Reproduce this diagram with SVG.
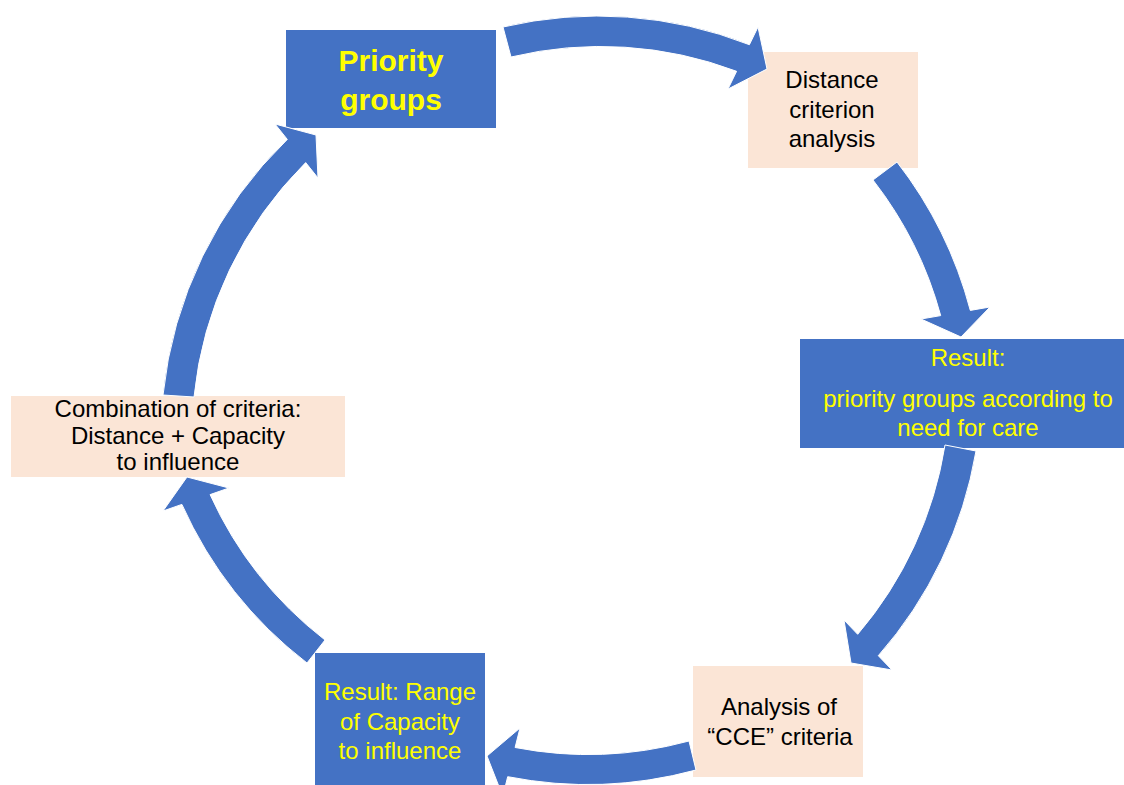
<svg xmlns="http://www.w3.org/2000/svg" width="1124" height="785" viewBox="0 0 1124 785">
  <style>
    .blue { fill: #4472C4; }
    .peach { fill: #FBE5D6; }
    text { font-family: "Liberation Sans", Arial, sans-serif; font-size: 24px; text-anchor: middle; }
    .yt { fill: #FFFF00; }
    .bt { fill: #000000; }
    .big { font-size: 30px; font-weight: bold; }
    .arrow { fill: #4472C4; stroke: #FFFFFF; stroke-width: 1; stroke-linejoin: miter; }
  </style>
  <rect width="1124" height="785" fill="#FFFFFF"/>

  <g id="node-priority-groups">
    <rect class="blue" x="286" y="30" width="210" height="98"/>
    <text class="yt big" x="391" y="71">Priority</text>
    <text class="yt big" x="391" y="110">groups</text>
  </g>

  <g id="node-distance-analysis">
    <rect class="peach" x="748" y="52" width="170" height="116"/>
    <text class="bt" x="832" y="88">Distance</text>
    <text class="bt" x="832" y="117.5">criterion</text>
    <text class="bt" x="832" y="147">analysis</text>
  </g>

  <g id="node-result-care">
    <rect class="blue" x="800" y="339" width="324" height="109"/>
    <text class="yt" x="968" y="366">Result:</text>
    <text class="yt" x="968" y="407">priority groups according to</text>
    <text class="yt" x="968" y="436">need for care</text>
  </g>

  <g id="node-cce-analysis">
    <rect class="peach" x="693" y="666" width="170" height="111"/>
    <text class="bt" x="779" y="715">Analysis of</text>
    <text class="bt" x="780" y="745">“CCE” criteria</text>
  </g>

  <g id="node-result-range">
    <rect class="blue" x="315" y="653" width="170" height="132"/>
    <text class="yt" x="400" y="700">Result: Range</text>
    <text class="yt" x="400" y="729.5">of Capacity</text>
    <text class="yt" x="400" y="759">to influence</text>
  </g>

  <g id="node-combination">
    <rect class="peach" x="11" y="396" width="334" height="81"/>
    <text class="bt" x="178" y="417">Combination of criteria:</text>
    <text class="bt" x="178" y="443.5">Distance + Capacity</text>
    <text class="bt" x="178" y="470">to influence</text>
  </g>

  <g id="connectors">
    <path class="arrow" d="M503,27 A415,415 0 0 1 749.4,44.7 L758,27 L767,69 L728,89 L736.6,71.3 A385,385 0 0 0 511,57 Z"/>
    <path class="arrow" d="M897,162 A415,415 0 0 1 970.3,310.4 L990,307 L961,337 L921,319 L940.7,315.6 A385,385 0 0 0 873,180 Z"/>
    <path class="arrow" d="M976,451 A415,415 0 0 1 878.3,655.7 L892,670 L851,663 L844,620 L857.7,634.3 A385,385 0 0 0 945,445 Z"/>
    <path class="arrow" d="M696,770 A415,415 0 0 1 507.7,776.7 L502.8,796.3 L487,756 L520,728 L515.1,747.5 A385,385 0 0 0 689,741 Z"/>
    <path class="arrow" d="M307,663 A415,415 0 0 1 181.9,504.4 L163,511 L187,477 L229,488 L210.1,494.6 A385,385 0 0 0 325,640 Z"/>
    <path class="arrow" d="M163,395 A415,415 0 0 1 287.3,139.4 L275,124 L316,135 L318,178 L305.7,162.6 A385,385 0 0 0 194,397 Z"/>
  </g>
</svg>
